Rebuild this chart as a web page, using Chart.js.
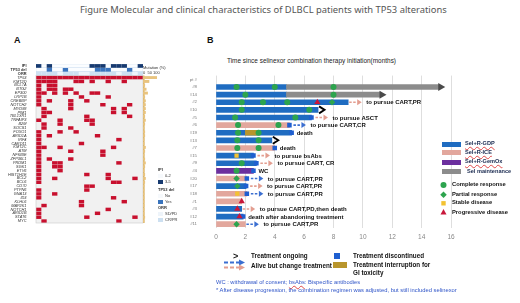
<!DOCTYPE html>
<html lang="en">
<head>
<meta charset="UTF-8" />
<title>DLBCL TP53 figure</title>
<script src="https://cdn.jsdelivr.net/npm/chart.js"></script>
<style>
  body { margin: 0; background: #fff; font-family: 'Liberation Sans', Arial, sans-serif; }
  .page { position: relative; width: 520px; height: 303px; overflow: hidden; }
  .t { position: absolute; white-space: nowrap; line-height: 1; }
  canvas { position: absolute; }
  .b { font-weight: bold; color: #111; }
  .sw { position: absolute; }
  .squig { text-decoration: underline wavy #e04848; text-decoration-thickness: 0.5px; text-underline-offset: 1px; }
  .small { font-size: 4px; color: #333; }
</style>
</head>
<body>
<div class="page">
  <div class="t" style="left:80px; top:5px; font-family:'Noto Sans'; font-size:9.4px; color:#555;">Figure Molecular and clinical characteristics of DLBCL patients with TP53 alterations</div>
  <div class="t b" style="left:14px; top:36px; font-size:9px;">A</div>
  <div class="t b" style="left:207px; top:36px; font-size:9px;">B</div>

  <!-- panel A -->
  <canvas id="heatA" width="145" height="168" style="left:0; top:60px;"></canvas>
  <canvas id="mutA" width="22" height="168" style="left:143px; top:60px;"></canvas>
  <div class="t small" style="left:143px; top:65.5px;">Mutation (%)</div>
  <div class="t small" style="left:143px; top:70.5px;">0</div>
  <div class="t small" style="left:147.5px; top:70.5px;">50</div>
  <div class="t small" style="left:153px; top:70.5px;">100</div>

  <div class="t small b" style="left:158px; top:168px;">IPI</div>
  <div class="sw" style="left:158px; top:174px; width:5px; height:4px; background:#f6f9fc;"></div>
  <div class="t small" style="left:165px; top:174px;">0-2</div>
  <div class="sw" style="left:158px; top:180px; width:5px; height:4px; background:#173a70;"></div>
  <div class="t small" style="left:165px; top:180px;">3-5</div>
  <div class="t small b" style="left:158px; top:187.5px;">TP53 del</div>
  <div class="sw" style="left:158px; top:194px; width:5px; height:4px; background:#f6f9fc;"></div>
  <div class="t small" style="left:165px; top:194px;">No</div>
  <div class="sw" style="left:158px; top:199.5px; width:5px; height:4px; background:#3a74bd;"></div>
  <div class="t small" style="left:165px; top:199.5px;">Yes</div>
  <div class="t small b" style="left:158px; top:206px;">ORR</div>
  <div class="sw" style="left:158px; top:212px; width:5px; height:4px; background:#eef4fa;"></div>
  <div class="t small" style="left:165px; top:212px;">SD/PD</div>
  <div class="sw" style="left:158px; top:218px; width:5px; height:4px; background:#cde0f1;"></div>
  <div class="t small" style="left:165px; top:218px;">CR/PR</div>

  <!-- panel B -->
  <div class="t" style="left:227px; top:58px; font-size:6.45px; color:#222;">Time since selinexor combination therapy initiation(months)</div>
  <canvas id="swimB" width="330" height="182" style="left:190px; top:62px;"></canvas>

  <div class="sw" style="left:442px; top:141.5px; width:19px; height:5px; background:#1f6cc1;"></div>
  <div class="t b squig" style="left:465px; top:141px; font-size:5.6px; color:#1a2a50;">Sel+R-GDP</div>
  <div class="sw" style="left:442px; top:150.2px; width:19px; height:5px; background:#e2a79d;"></div>
  <div class="t b squig" style="left:465px; top:149.7px; font-size:5.6px; color:#1a2a50;">Sel+R-ICE</div>
  <div class="sw" style="left:442px; top:159.8px; width:19px; height:5px; background:#6b2f9e;"></div>
  <div class="t b squig" style="left:465px; top:159.3px; font-size:5.6px; color:#1a2a50;">Sel+R-GemOx</div>
  <div class="sw" style="left:442px; top:169.2px; width:19px; height:5px; background:#8c8c8c;"></div>
  <div class="t b" style="left:467px; top:168.7px; font-size:5.6px; color:#1a2a50;">Sel maintenance</div>

  <svg class="sw" style="left:438px; top:180px;" width="12" height="38">
    <circle cx="5.5" cy="5" r="3" fill="#2da44e"/>
    <rect x="3.2" y="12.4" width="4.6" height="4.6" fill="#2da44e" transform="rotate(45 5.5 14.7)"/>
    <rect x="3.3" y="21.1" width="4.4" height="4.4" fill="#f3c232"/>
    <polygon points="5.5,29 8.5,34.5 2.5,34.5" fill="#c8173a"/>
  </svg>
  <div class="t b" style="left:452px; top:182px; font-size:5.8px;">Complete response</div>
  <div class="t b" style="left:452px; top:191.7px; font-size:5.8px;">Partial response</div>
  <div class="t b" style="left:452px; top:200.3px; font-size:5.8px;">Stable disease</div>
  <div class="t b" style="left:452px; top:209.7px; font-size:5.8px;">Progressive disease</div>

  <div class="t b" style="left:233px; top:251.5px; font-size:9px;">&gt;</div>
  <div class="t b" style="left:251px; top:253px; font-size:6.3px;">Treatment ongoing</div>
  <svg class="sw" style="left:222px; top:259px;" width="26" height="12">
    <line x1="2" y1="3.5" x2="17" y2="3.5" stroke="#3b6fd1" stroke-width="2" stroke-dasharray="4 2"/>
    <polygon points="17,0.5 23,3.5 17,6.5" fill="#3b6fd1"/>
    <line x1="2" y1="8.5" x2="17" y2="8.5" stroke="#e39e90" stroke-width="2" stroke-dasharray="4 2"/>
    <polygon points="17,5.5 23,8.5 17,11.5" fill="#e39e90"/>
  </svg>
  <div class="t b" style="left:251px; top:263px; font-size:6.3px;">Alive but change treatment</div>
  <div class="sw" style="left:334px; top:253px; width:6px; height:6px; background:#1f5fd0;"></div>
  <div class="t b" style="left:353px; top:253px; font-size:6.3px;">Treatment discontinued</div>
  <div class="sw" style="left:333px; top:262px; width:14px; height:6px; background:#b8952c;"></div>
  <div class="t b" style="left:353px; top:261.5px; font-size:6.3px;">Treatment interruption for</div>
  <div class="t b" style="left:353px; top:270px; font-size:6.3px;">GI toxicity</div>

  <div class="t" style="left:216px; top:280px; font-size:5.75px; color:#2f55c8;">WC : withdrawal of consent; <span class="squig">bsAbs</span>: Bispecific antibodies</div>
  <div class="t" style="left:216px; top:287.6px; font-size:5.8px; color:#2f55c8;">* After disease progression, the combination regimen was adjusted, but still included selinexor</div>
</div>

<script>
  // ---------- panel A data ----------
  const nCols = 20;
  const genes = ['TP53','KMT2D','BCL7A','BTG2','EP300','LRP1B','CREBBP','NOTCH2','MYD88','PIM1',
    'TBL1XR1','TNFAIP3','B2M','SOCS1','FOXO1','ARID1A','IRF4','CARD11','KMT2C','ATM',
    'NFKBIE','ZFP36L1','PRDM1','SGK1','ETV6','HIST1H1E','BCL2','BCL6','CD70','PTPN6',
    'GNA13','ID3','KLHL6','MAP2K1','NOTCH1','ARID1B','STAT6','MYC'];
  const mutCols = [
    [0,1,2,3,4,5,6,7,8,9,10,11,12,13,14,15,16,17,18,19],
    [0,1,2,3,7,8,10,13,16],
    [0,2,3],
    [0,2,3,5,6],
    [0,1,3,5,7,10,11],
    [0,8,13],
    [0,2,6,9],
    [0,6,12,17],
    [1,6,14,16],
    [1,2,14,16],
    [1,9,17],
    [0,4,9,10],
    [1,4,10],
    [1,6],
    [0,4,7],
    [0,2,11],
    [0,15],
    [0,8],
    [0,1,4,14],
    [0,6,12],
    [0,12],
    [0,2,6],
    [0,3,4,15],
    [0,3,4],
    [0,4],
    [0,9,13],
    [0,3,13,18],
    [0,14,15],
    [9,10],
    [0,9],
    [0,3],
    [0,14],
    [8,16],
    [1,8],
    [0,13],
    [0,11],
    [0,9,18],
    [1,15]
  ];
  const ipiHigh = [0,2,10,11,12,14,15,16,19];
  const tp53Del = [2,5,11,12,13,17];
  const orrResp = [0,1,2,3,5,6,7,10,11,12,13,14,16,17,19];
  const orrNoResp = [4,8,9,15,18];
  const annoRows = ['IPI','TP53 del','ORR'];
  const rowsA = annoRows.concat(genes);

  const cells = (cols, row) => cols.map(c => ({ x: [c, c + 1], y: row }));

  const mutData = [];
  genes.forEach((g, i) => mutData.push(...cells(mutCols[i], g)));

  new Chart(document.getElementById('heatA'), {
    type: 'bar',
    data: {
      datasets: [
        { data: mutData, backgroundColor: '#c8102e', barPercentage: 0.9, categoryPercentage: 1, grouped: false, order: 1 },
        { data: cells(ipiHigh, 'IPI'), backgroundColor: '#173a70', barPercentage: 0.95, categoryPercentage: 1, grouped: false, order: 1 },
        { data: cells(tp53Del, 'TP53 del'), backgroundColor: '#3a74bd', barPercentage: 0.95, categoryPercentage: 1, grouped: false, order: 1 },
        { data: cells(orrResp, 'ORR'), backgroundColor: '#cde0f1', barPercentage: 0.95, categoryPercentage: 1, grouped: false, order: 1 },
        { data: cells(orrNoResp, 'ORR'), backgroundColor: '#eef4fa', barPercentage: 0.95, categoryPercentage: 1, grouped: false, order: 1 },
        { data: genes.map(g => ({ x: [0, nCols], y: g })), backgroundColor: '#f1f1f1', barPercentage: 1, categoryPercentage: 1, grouped: false, order: 5 },
        { data: annoRows.map(r => ({ x: [0, nCols], y: r })), backgroundColor: '#fbfdff', borderColor: '#bcd4ea', borderWidth: 0.5, borderSkipped: false, barPercentage: 1, categoryPercentage: 1, grouped: false, order: 5 }
      ]
    },
    options: {
      indexAxis: 'y', animation: false, responsive: false,
      layout: { padding: { top: 4, bottom: 5, right: 2, left: 0 } },
      plugins: { legend: { display: false }, tooltip: { enabled: false } },
      scales: {
        x: { type: 'linear', min: 0, max: nCols, display: false },
        y: {
          type: 'category', labels: rowsA,
          grid: { display: false }, border: { display: false },
          ticks: { autoSkip: false, padding: 1.5, color: '#333',
            font: c => ({ size: 3.9, weight: c.index < 3 ? 'bold' : 'normal', style: c.index < 3 ? 'normal' : 'italic' }) },
          afterFit: s => { s.width = 36; }
        }
      }
    },
    plugins: [{
      id: 'frame',
      afterDatasetsDraw(chart) {
        const { ctx, chartArea: a, scales: { y } } = chart;
        const top = (y.getPixelForValue(2) + y.getPixelForValue(3)) / 2;
        ctx.save();
        ctx.strokeStyle = '#c9c9c9';
        ctx.lineWidth = 0.6;
        ctx.strokeRect(a.left, top, a.right - a.left, a.bottom - top);
        ctx.restore();
      }
    }]
  });

  // mutation frequency bars, counted from the matrix
  const mutPct = mutCols.map(c => c.length / nCols * 100);
  new Chart(document.getElementById('mutA'), {
    type: 'bar',
    data: { datasets: [{ data: genes.map((g, i) => ({ x: mutPct[i], y: g })), backgroundColor: '#e8c37e', barPercentage: 0.75, categoryPercentage: 1 }] },
    options: {
      indexAxis: 'y', animation: false, responsive: false,
      layout: { padding: { top: 4, bottom: 5, right: 8, left: 0 } },
      plugins: { legend: { display: false }, tooltip: { enabled: false } },
      scales: {
        x: { type: 'linear', min: 0, max: 100, display: false },
        y: { type: 'category', labels: rowsA, display: false }
      }
    },
    plugins: [{
      id: 'strip',
      beforeDatasetsDraw(chart) {
        const { ctx, chartArea: a, scales: { y } } = chart;
        const top = (y.getPixelForValue(2) + y.getPixelForValue(3)) / 2;
        ctx.save();
        ctx.fillStyle = '#d9b56c';
        ctx.fillRect(a.left, top, 1.6, a.bottom - top);
        ctx.restore();
      }
    }]
  });

  // ---------- panel B data ----------
  const patients = ['#8','#14','#2','#10','#5','#6','#19','#13','#7','#15','#9','#4','#20','#17','#18','#1','#3','#12','#11'];
  const regimen = ['GDP','GDP','GDP','GDP','GDP','ICE','GDP','GDP','ICE','GDP','GDP','GemOx','ICE','GDP','ICE','ICE','GDP','GDP','ICE'];
  const treatEnd = [4.8, 4.8, 9.0, 6.95, 6.5, 5.0, 5.15, 3.8, 4.0, 2.55, 2.75, 2.55, 2.1, 2.05, 2.1, 1.75, 1.75, 1.85, 2.0];
  const maintEnd = [15.2, 11.2, null, null, null, null, null, null, null, null, null, null, null, null, null, null, null, null, null];
  const outcome = ['maint','maint','change','ongoing','change','change','stop','ongoing','stop','change','change','stop','change','change','change','none','change','stop','change'];
  const stopped = [false,false,false,false,true,true,true,false,true,true,true,true,true,true,true,false,false,true,false];
  const notes = ['', '', 'to pursue CART,PR', '', 'to pursue ASCT', 'to pursue CART,CR', 'death', '', 'death',
    'to pursue bsAbs', 'to pursue CART, CR', 'WC', 'to pursue CART,PR', 'to pursue CART,PR', 'to pursue CART,PR',
    '', 'to pursue CART,PD,then death', 'death after abandoning treatment', 'to pursue CART,PR'];
  const giPause = [['#19', 2.0, 2.8]];
  const crPoints = [['#8',1.4],['#8',4.0],['#8',8.0],['#14',2.0],['#14',8.0],['#2',1.75],['#2',3.2],['#2',4.85],
    ['#10',1.75],['#10',6.35],['#5',1.3],['#5',5.4],['#6',1.5],['#6',4.25],['#19',1.5],['#19',2.9],
    ['#13',1.45],['#13',2.9],['#7',1.45],['#7',2.9],['#9',1.75],['#4',1.4]];
  const prPoints = [['#2',7.9],['#20',1.4],['#17',1.45],['#11',1.4]];
  const sdPoints = [['#15',1.4],['#18',1.45]];
  const pdPoints = [['#2',6.9],['#1',1.75],['#3',1.45],['#12',1.6]];
  const monthTicks = [0, 2, 4, 6, 8, 10, 12, 14, 16];
  const rowsB = ['pt #'].concat(patients);

  const colors = { GDP: '#1f6cc1', ICE: '#e2a79d', GemOx: '#6b2f9e', maint: '#8c8c8c', gi: '#b8952c' };
  const arrowColor = { GDP: '#e39e90', ICE: '#3b6fd1', GemOx: '#e39e90' };

  const pts = list => list.map(([id, t]) => ({ x: t, y: id }));
  const barSet = (data, color, order) => ({ type: 'bar', data, backgroundColor: color, barThickness: 5, grouped: false, order });

  const regimenSets = ['GDP', 'ICE', 'GemOx'].map(r => barSet(
    patients.filter((p, i) => regimen[i] === r).map(p => ({ x: [0, treatEnd[patients.indexOf(p)]], y: p })),
    colors[r], 6));
  const maintSet = barSet(patients.map((p, i) => maintEnd[i] ? { x: [treatEnd[i], maintEnd[i]], y: p } : null).filter(Boolean), colors.maint, 6);
  const giSet = barSet(giPause.map(([id, a, b]) => ({ x: [a, b], y: id })), colors.gi, 5);

  const marker = (data, style, color, r, order) => ({ type: 'scatter', data, pointStyle: style, backgroundColor: color,
    borderColor: color, borderWidth: 0, pointRadius: r, order });

  const stopSquares = patients.map((p, i) => stopped[i] ? { x: treatEnd[i], y: p } : null).filter(Boolean);

  new Chart(document.getElementById('swimB'), {
    type: 'bar',
    data: {
      datasets: [
        marker(pts(crPoints), 'circle', '#2da44e', 3, 0),
        marker(pts(prPoints), 'rectRot', '#2da44e', 3.2, 0),
        marker(pts(sdPoints), 'rect', '#f3c232', 3, 0),
        marker(pts(pdPoints), 'triangle', '#c8173a', 3.6, 0),
        marker(stopSquares, 'rect', '#1f5fd0', 3.2, 1),
        giSet, maintSet, ...regimenSets
      ]
    },
    options: {
      indexAxis: 'y', animation: false, responsive: false,
      layout: { padding: { top: 8, right: 69, bottom: 0, left: 0 } },
      plugins: { legend: { display: false }, tooltip: { enabled: false } },
      scales: {
        x: {
          type: 'linear', min: 0, max: 16,
          grid: { color: '#dedede', drawTicks: false }, border: { display: false },
          ticks: { padding: 5, color: '#888', font: { size: 6.5 } },
          afterBuildTicks: s => { s.ticks = monthTicks.map(v => ({ value: v })); },
          afterFit: s => { s.height = 16; }
        },
        y: {
          type: 'category', labels: rowsB,
          grid: { display: false }, border: { display: false },
          ticks: { autoSkip: false, padding: 11, color: '#777', font: { size: 4.3 } },
          afterFit: s => { s.width = 26; }
        }
      }
    },
    plugins: [{
      id: 'swimNotes',
      afterDatasetsDraw(chart) {
        const { ctx, scales: { x, y } } = chart;
        ctx.save();
        patients.forEach((p, i) => {
          const yy = y.getPixelForValue(i + 1);
          const xe = x.getPixelForValue(treatEnd[i]);
          let tx = xe + (stopped[i] ? 5 : 2);
          if (outcome[i] === 'maint') {
            const xm = x.getPixelForValue(maintEnd[i]);
            ctx.fillStyle = '#4a4a4a';
            ctx.beginPath();
            ctx.moveTo(xm - 1, yy - 4); ctx.lineTo(xm + 6, yy); ctx.lineTo(xm - 1, yy + 4); ctx.closePath();
            ctx.fill();
          } else if (outcome[i] === 'ongoing') {
            ctx.strokeStyle = '#000';
            ctx.lineWidth = 1.8;
            ctx.beginPath();
            ctx.moveTo(xe + 1, yy - 3.5); ctx.lineTo(xe + 6.5, yy); ctx.lineTo(xe + 1, yy + 3.5);
            ctx.stroke();
          } else if (outcome[i] === 'change') {
            const x0 = xe + (stopped[i] ? 4 : 1);
            const x1 = x0 + 8;
            ctx.strokeStyle = ctx.fillStyle = arrowColor[regimen[i]];
            ctx.lineWidth = 1.6;
            ctx.setLineDash([2.5, 1.5]);
            ctx.beginPath(); ctx.moveTo(x0, yy); ctx.lineTo(x1, yy); ctx.stroke();
            ctx.setLineDash([]);
            ctx.beginPath();
            ctx.moveTo(x1, yy - 3); ctx.lineTo(x1 + 4.5, yy); ctx.lineTo(x1, yy + 3); ctx.closePath();
            ctx.fill();
            tx = x1 + 9;
          }
          if (notes[i]) {
            ctx.fillStyle = '#111';
            ctx.font = 'bold 6px "Liberation Sans", Arial, sans-serif';
            ctx.textBaseline = 'middle';
            ctx.fillText(notes[i], tx, yy + 0.5);
          }
        });
        ctx.restore();
      }
    }]
  });
</script>
</body>
</html>
